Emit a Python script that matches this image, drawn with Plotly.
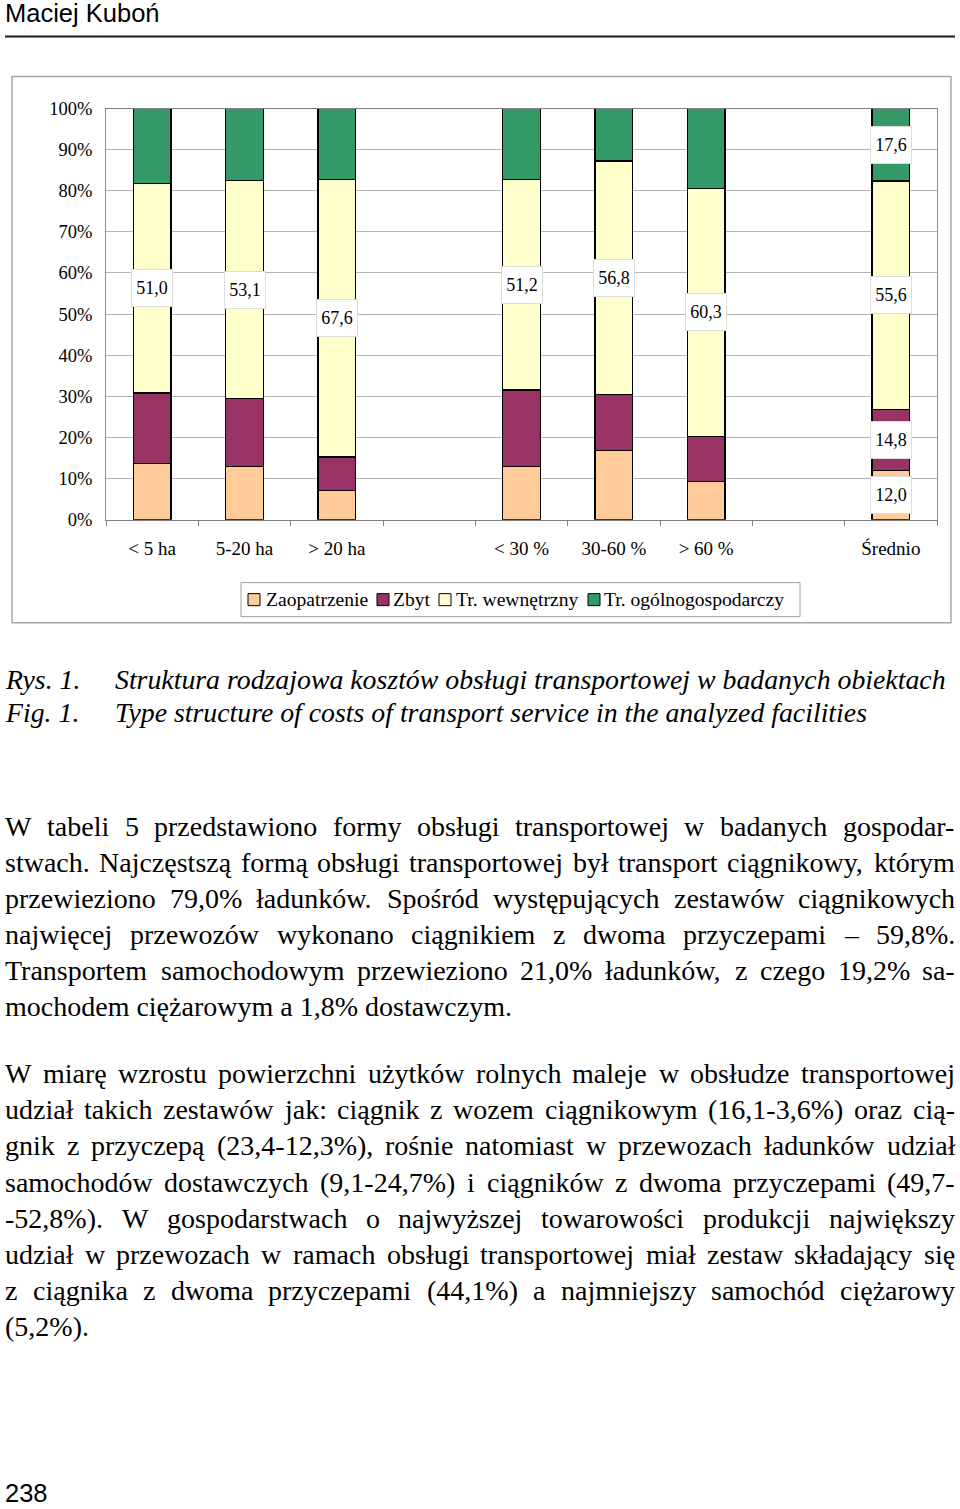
import plotly.graph_objects as go

# ---------------- data ----------------
categories = ["< 5 ha", "5-20 ha", "> 20 ha", "", "< 30 %", "30-60 %", "> 60 %", "", "Średnio"]
zaopatrzenie = [13.6, 13.0, 7.1, None, 13.0, 16.9, 9.3, None, 12.0]
zbyt = [17.2, 16.4, 8.1, None, 18.5, 13.5, 11.0, None, 14.8]
tr_wewnetrzny = [51.0, 53.1, 67.6, None, 51.2, 56.8, 60.3, None, 55.6]
tr_ogolnogospodarczy = [18.2, 17.5, 17.2, None, 17.3, 12.8, 19.4, None, 17.6]
series_names = ["Zaopatrzenie", "Zbyt", "Tr. wewnętrzny", "Tr. ogólnogospodarczy"]
series_colors = ["#FFCC99", "#993366", "#FFFFCC", "#339966"]
y_tick_values = [0, 10, 20, 30, 40, 50, 60, 70, 80, 90, 100]
y_tick_labels = [f"{v}%" for v in y_tick_values]
labelled_series_all = [2]          # Tr. wewnętrzny labelled on every bar
labelled_category_all = "Średnio"  # every segment labelled on this bar

header_text = "Maciej Kuboń"
page_number = "238"
caption_lines = [
    ("Rys. 1.", "Struktura rodzajowa kosztów obsługi transportowej w badanych obiektach"),
    ("Fig. 1.", "Type structure of costs of transport service in the analyzed facilities"),
]
paragraph1 = [
    "W tabeli 5 przedstawiono formy obsługi transportowej w badanych gospodar-",
    "stwach. Najczęstszą formą obsługi transportowej był transport ciągnikowy, którym",
    "przewieziono 79,0% ładunków. Spośród występujących zestawów ciągnikowych",
    "najwięcej przewozów wykonano ciągnikiem z dwoma przyczepami – 59,8%.",
    "Transportem samochodowym przewieziono 21,0% ładunków, z czego 19,2% sa-",
    "mochodem ciężarowym a 1,8% dostawczym.",
]
paragraph2 = [
    "W miarę wzrostu powierzchni użytków rolnych maleje w obsłudze transportowej",
    "udział takich zestawów jak: ciągnik z wozem ciągnikowym (16,1-3,6%) oraz cią-",
    "gnik z przyczepą (23,4-12,3%), rośnie natomiast w przewozach ładunków udział",
    "samochodów dostawczych (9,1-24,7%) i ciągników z dwoma przyczepami (49,7-",
    "-52,8%). W gospodarstwach o najwyższej towarowości produkcji największy",
    "udział w przewozach w ramach obsługi transportowej miał zestaw składający się",
    "z ciągnika z dwoma przyczepami (44,1%) a najmniejszy samochód ciężarowy",
    "(5,2%).",
]

# ---------------- page geometry helpers ----------------
W, H = 960, 1509
# the photographed page is slightly taller than the figure; compensate vertically
V_SCALE, V_OFF = 0.9865, 10.5
def px(x):
    return x / W
def py(y):
    return 1 - ((y - V_OFF) / V_SCALE) / H

SERIF = "Liberation Serif"
SANS = "Liberation Sans"

# Times-compatible advance widths (1/1000 em) for justification
CW = {' ': 250, ',': 250, '.': 250, ':': 278, ';': 278, '-': 333, '–': 500, '%': 833,
      '(': 333, ')': 333}
CW.update({d: 500 for d in "0123456789"})
CW.update(dict(zip("abcdefghijklmnopqrstuvwxyz",
                   [444, 500, 444, 500, 444, 333, 500, 500, 278, 278, 500, 278, 778, 500, 500,
                    500, 500, 333, 389, 278, 500, 500, 722, 500, 500, 444])))
CW.update(dict(zip("ABCDEFGHIJKLMNOPQRSTUVWXYZ",
                   [722, 667, 667, 722, 611, 556, 722, 722, 333, 389, 722, 611, 889, 722, 722,
                    556, 722, 667, 556, 611, 722, 722, 944, 722, 722, 611])))
CW.update({'ą': 444, 'ć': 444, 'ę': 444, 'ł': 278, 'ń': 500, 'ó': 500, 'ś': 389, 'ź': 444,
           'ż': 444, 'Ś': 556})

def text_w(s, size):
    return sum(CW.get(c, 500) for c in s) * size / 1000.0

fig = go.Figure()

# ---------------- bars ----------------
all_series = [zaopatrzenie, zbyt, tr_wewnetrzny, tr_ogolnogospodarczy]
positions = list(range(len(categories)))
for name, color, vals in zip(series_names, series_colors, all_series):
    xs = [p for p, v in zip(positions, vals) if v is not None]
    ys = [v for v in vals if v is not None]
    fig.add_trace(go.Bar(x=xs, y=ys, name=name, width=0.41, showlegend=False,
                         marker=dict(color=color, line=dict(color="black", width=1.3))))

# ---------------- value labels ----------------
annotations = []
for ci, cat in enumerate(categories):
    if all_series[0][ci] is None:
        continue
    base = 0.0
    for si, vals in enumerate(all_series):
        v = vals[ci]
        if si in labelled_series_all or cat == labelled_category_all:
            annotations.append(dict(
                x=ci, y=base + v / 2, xref="x", yref="y", showarrow=False,
                text=f"{v:.1f}".replace(".", ","),
                font=dict(family=SERIF, size=18, color="black"),
                bgcolor="white", bordercolor="#dcdcdc", borderwidth=1,
                width=38, height=34, align="center", valign="middle"))
        base += v

# ---------------- page text ----------------
def add_text(x, y, text, size, family=SERIF, style="normal", anchor="left"):
    annotations.append(dict(x=px(x), y=py(y), xref="paper", yref="paper", text=text,
                            showarrow=False, xanchor=anchor, yanchor="middle",
                            borderpad=0, borderwidth=0,
                            font=dict(family=family, size=size, color="black", style=style)))

def add_line(line, y, justify, size=28, left=5, right=955):
    if not justify:
        add_text(left, y, line, size)
        return
    words = line.split(" ")
    ws = [text_w(w, size) for w in words]
    gap = (right - left - sum(ws)) / (len(words) - 1)
    x = left
    for w, ww in zip(words, ws):
        add_text(x, y, w, size)
        x += ww + gap

add_text(5, 13, header_text, 25.5, family=SANS)
add_text(5, 1493, page_number, 25.5, family=SANS)

for (lab, txt), y in zip(caption_lines, [680, 713]):
    add_text(5, y, lab, 27.8, style="italic")
    add_text(115, y, txt, 27.8, style="italic")

for i, line in enumerate(paragraph1):
    add_line(line, 827 + 36 * i, justify=(i < len(paragraph1) - 1))
for i, line in enumerate(paragraph2):
    add_line(line, 1074 + 36.1 * i, justify=(i < len(paragraph2) - 1))

shapes = [
    dict(type="line", xref="paper", yref="paper", x0=px(5), x1=px(955), y0=py(37), y1=py(37),
         line=dict(color="#1a1a1a", width=2)),
    dict(type="rect", xref="paper", yref="paper", x0=px(12), x1=px(951), y0=py(623), y1=py(77),
         line=dict(color="#a6a6a6", width=1.5)),
    # legend frame
    dict(type="rect", xref="paper", yref="paper", x0=px(241), x1=px(800), y0=py(617), y1=py(583),
         line=dict(color="#a0a0a0", width=1), fillcolor="white"),
]

# legend entries (drawn manually to match the original spacing)
legend_symbol_x = [248, 377, 439, 588]
legend_text_x = [266, 393, 456, 604]
for name, color, sx, tx in zip(series_names, series_colors, legend_symbol_x, legend_text_x):
    shapes.append(dict(type="rect", xref="paper", yref="paper", x0=px(sx), x1=px(sx + 12),
                       y0=py(606), y1=py(594), line=dict(color="black", width=1),
                       fillcolor=color))
    add_text(tx, 600, name, 19.6)

x_bounds = [p - 0.5 for p in positions] + [positions[-1] + 0.5]

fig.update_layout(
    width=W, height=H, autosize=False,
    margin=dict(l=0, r=0, t=0, b=0),
    paper_bgcolor="white", plot_bgcolor="white",
    barmode="stack",
    showlegend=False,
    xaxis=dict(domain=[px(106), px(937)], range=[-0.5, len(categories) - 0.5],
               tickmode="array", tickvals=positions, ticktext=categories, ticks="",
               showgrid=False, zeroline=False, showline=True, linecolor="#808080", linewidth=1,
               mirror=True, ticklabelstandoff=12,
               tickfont=dict(family=SERIF, size=19, color="black"),
               minor=dict(tickmode="array", tickvals=x_bounds, ticks="outside", ticklen=5,
                          tickcolor="#808080", showgrid=False)),
    yaxis=dict(domain=[py(520), py(109)], range=[0, 100],
               tickmode="array", tickvals=y_tick_values, ticktext=y_tick_labels,
               showgrid=True, gridcolor="#b4b4b4", gridwidth=1, zeroline=False,
               showline=True, linecolor="#909090", linewidth=1, mirror=True,
               ticks="", ticklabelstandoff=9,
               tickfont=dict(family=SERIF, size=18.5, color="black")),
    annotations=annotations,
    shapes=shapes,
    font=dict(family=SERIF, color="black"),
)

fig.write_html("out.html", config={"displayModeBar": False},
               post_script="document.body.style.margin='0';")
